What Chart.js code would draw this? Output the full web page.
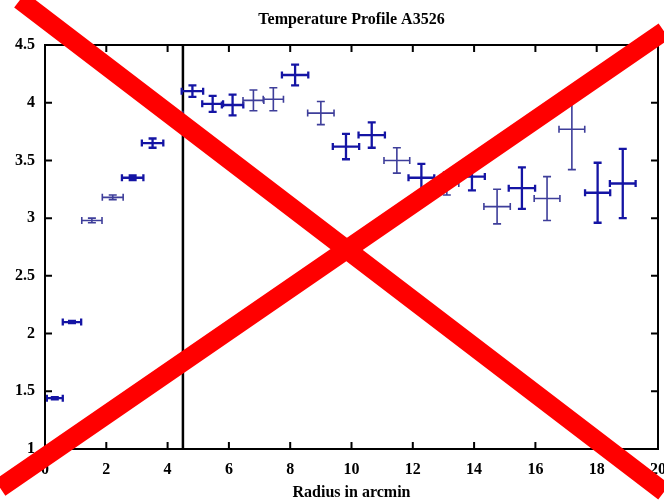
<!DOCTYPE html>
<html>
<head>
<meta charset="utf-8">
<title>Temperature Profile A3526</title>
<script src="https://cdn.jsdelivr.net/npm/chart.js@4.4.1/dist/chart.umd.min.js"></script>
<style>
  html, body { margin: 0; padding: 0; background: #fff; overflow: hidden; }
  #wrap { width: 664px; height: 504px; }
</style>
</head>
<body>
<div id="wrap"><canvas id="profileChart" width="664" height="504"></canvas></div>
<script>
// ---- DATA ----
const radius    = [0.32, 0.88, 1.53, 2.21, 2.86, 3.51, 4.15, 4.81, 5.47, 6.12, 6.80, 7.45, 8.16,
                   9.00, 9.82, 10.66, 11.48, 12.28, 13.11, 13.93, 14.75, 15.56, 16.38, 17.19, 18.03, 18.85];
const radiusErr = [0.26, 0.30, 0.33, 0.34, 0.35, 0.35, 0.35, 0.35, 0.34, 0.35, 0.34, 0.33, 0.43,
                   0.43, 0.43, 0.43, 0.42, 0.42, 0.39, 0.42, 0.43, 0.43, 0.42, 0.42, 0.41, 0.42];
const temp      = [1.44, 2.10, 2.98, 3.18, 3.35, 3.65, 3.90, 4.10, 3.99, 3.98, 4.02, 4.03, 4.24,
                   3.91, 3.62, 3.72, 3.50, 3.35, 3.30, 3.36, 3.10, 3.26, 3.17, 3.77, 3.22, 3.30];
const tempErr   = [0.01, 0.01, 0.02, 0.02, 0.02, 0.04, 0.05, 0.05, 0.07, 0.09, 0.09, 0.10, 0.09,
                   0.10, 0.11, 0.11, 0.11, 0.12, 0.10, 0.12, 0.15, 0.18, 0.19, 0.35, 0.26, 0.30];
const cutRadius = 4.5;
const xTicks = [0, 2, 4, 6, 8, 10, 12, 14, 16, 18, 20];
const yTicks = [1, 1.5, 2, 2.5, 3, 3.5, 4, 4.5];

// bars that came out lighter in the original
const faintBars = [2, 3, 6, 10, 11, 13, 16, 18, 20, 22, 23];

const FONT = { family: "'Liberation Serif', 'Times New Roman', serif", size: 16, weight: 'bold' };

// ---- PLUGINS ----
const errorBars = {
  id: 'errorBars',
  afterDatasetsDraw(chart) {
    const { ctx, scales: { x, y } } = chart;
    const pts = chart.data.datasets[0].data;
    ctx.save();
    pts.forEach((p, i) => {
      const faint = faintBars.includes(i);
      ctx.strokeStyle = faint ? '#3e3e9a' : '#1414a4';
      ctx.lineWidth = faint ? 1.6 : 2.3;
      const px = x.getPixelForValue(p.x), py = y.getPixelForValue(p.y);
      const x0 = x.getPixelForValue(p.x - p.xErr), x1 = x.getPixelForValue(p.x + p.xErr);
      const y0 = y.getPixelForValue(p.y - p.yErr), y1 = y.getPixelForValue(p.y + p.yErr);
      ctx.beginPath();
      ctx.moveTo(x0, py); ctx.lineTo(x1, py);
      ctx.moveTo(px, y0); ctx.lineTo(px, y1);
      ctx.moveTo(x0, py - 3.5); ctx.lineTo(x0, py + 3.5);
      ctx.moveTo(x1, py - 3.5); ctx.lineTo(x1, py + 3.5);
      ctx.moveTo(px - 4, y0); ctx.lineTo(px + 4, y0);
      ctx.moveTo(px - 4, y1); ctx.lineTo(px + 4, y1);
      ctx.stroke();
    });
    ctx.restore();
  }
};

const frameTicks = {
  id: 'frameTicks',
  afterDatasetsDraw(chart) {
    const { ctx, chartArea: a, scales: { x, y } } = chart;
    const len = 7;
    ctx.save();
    ctx.strokeStyle = '#000';
    ctx.lineWidth = 2;
    ctx.beginPath();
    x.ticks.forEach(t => {
      const px = x.getPixelForValue(t.value);
      ctx.moveTo(px, a.bottom); ctx.lineTo(px, a.bottom - len);
      ctx.moveTo(px, a.top); ctx.lineTo(px, a.top + len);
    });
    y.ticks.forEach(t => {
      const py = y.getPixelForValue(t.value);
      ctx.moveTo(a.left, py); ctx.lineTo(a.left + len, py);
      ctx.moveTo(a.right, py); ctx.lineTo(a.right - len, py);
    });
    ctx.stroke();
    ctx.strokeRect(a.left, a.top, a.right - a.left, a.bottom - a.top);
    ctx.restore();
  }
};

// big red cross laid over the whole picture
const redCross = {
  id: 'redCross',
  afterDraw(chart) {
    const { ctx, width: w, height: h } = chart;
    ctx.save();
    ctx.strokeStyle = '#ff0000';
    ctx.lineWidth = 19;
    ctx.beginPath();
    ctx.moveTo(w * 0.03, 0); ctx.lineTo(w, h * 0.976);
    ctx.moveTo(0, h * 0.968); ctx.lineTo(w, h * 0.062);
    ctx.stroke();
    ctx.restore();
  }
};

// ---- CHART ----
const points = radius.map((r, i) => ({ x: r, y: temp[i], xErr: radiusErr[i], yErr: tempErr[i] }));

new Chart(document.getElementById('profileChart'), {
  type: 'scatter',
  data: {
    datasets: [
      { label: 'T', data: points, pointRadius: 0, pointHoverRadius: 0, showLine: false },
      {
        label: 'cut', type: 'line',
        data: [{ x: cutRadius, y: yTicks[0] }, { x: cutRadius, y: yTicks[yTicks.length - 1] }],
        borderColor: '#000', borderWidth: 2.5, pointRadius: 0, fill: false
      }
    ]
  },
  options: {
    responsive: false,
    devicePixelRatio: 1,
    animation: false,
    events: [],
    layout: { padding: { left: 0, right: 6, top: 0, bottom: 0 } },
    plugins: {
      legend: { display: false },
      tooltip: { enabled: false },
      title: {
        display: true,
        fullSize: false,
        text: 'Temperature Profile A3526',
        color: '#000',
        font: FONT,
        padding: { top: 10, bottom: 15.8 }
      }
    },
    scales: {
      x: {
        type: 'linear',
        min: xTicks[0], max: xTicks[xTicks.length - 1],
        afterBuildTicks: s => { s.ticks = xTicks.map(v => ({ value: v })); },
        afterFit: s => { s.height = 55; s.paddingLeft = 0; s.paddingRight = 0; },
        grid: { display: false, drawTicks: false },
        border: { display: false },
        ticks: { color: '#000', font: FONT, padding: 11, maxRotation: 0, callback: v => String(v) },
        title: { display: true, text: 'Radius in arcmin', color: '#000', font: FONT, padding: { top: 0, bottom: 2 } }
      },
      y: {
        type: 'linear',
        min: yTicks[0], max: yTicks[yTicks.length - 1],
        afterBuildTicks: s => { s.ticks = yTicks.map(v => ({ value: v })); },
        afterFit: s => { s.width = 45; },
        grid: { display: false, drawTicks: false },
        border: { display: false },
        ticks: { color: '#000', font: FONT, padding: 10, callback: v => String(v) }
      }
    }
  },
  plugins: [errorBars, frameTicks, redCross]
});
</script>
</body>
</html>
